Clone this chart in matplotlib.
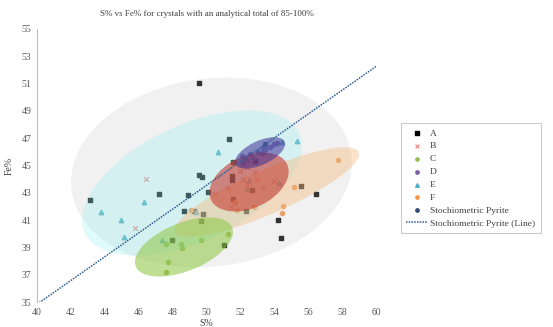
import numpy as np
import matplotlib
matplotlib.use("Agg")
import matplotlib.pyplot as plt
from matplotlib.patches import Ellipse

plt.rcParams["font.family"] = ["Liberation Serif", "DejaVu Serif"]

# ── Data ───────────────────────────────────────────────────────
A_S = [49.54, 51.31, 51.56, 49.54, 49.73, 50.07, 43.15, 47.2, 48.9, 48.65, 49.24, 49.81,
       49.66, 47.94, 51.05, 51.5, 51.5, 51.56, 52.67, 52.33, 55.57, 56.44, 54.24, 54.38, 52.88]
A_FE = [51.07, 46.96, 45.28, 44.28, 44.18, 43.06, 42.45, 42.9, 42.86, 41.7, 41.67, 41.42,
        40.96, 39.54, 39.18, 44.25, 43.94, 42.52, 43.18, 41.69, 43.5, 42.93, 41.0, 39.69, 45.3]

B_S = [46.45, 45.78, 50.5, 51.25, 51.96, 52.17, 52.37, 52.98, 52.88, 53.35, 53.96, 51.46,
       52.37, 52.57, 52.11, 53.45]
B_FE = [44.03, 40.42, 42.89, 43.33, 44.62, 44.01, 43.64, 43.96, 44.52, 43.33, 43.84, 41.94,
        44.92, 45.16, 45.04, 45.9]

C_S = [47.63, 47.73, 47.59, 48.5, 48.55, 49.66, 51.27]
C_FE = [39.27, 37.9, 37.2, 39.22, 38.93, 39.54, 39.96]

D_S = [52.08, 52.57, 53.06, 53.45, 53.75, 53.98, 54.14, 52.37, 52.76, 53.25, 52.17, 53.35]
D_FE = [45.7, 45.84, 46.01, 46.2, 46.33, 46.57, 46.67, 45.4, 45.53, 45.89, 45.16, 46.26]

E_S = [50.7, 54.47, 55.36, 43.76, 46.33, 44.98, 45.11, 47.35, 49.36, 52.39, 52.53, 54.3]
E_FE = [45.99, 46.72, 46.8, 41.62, 42.35, 41.0, 39.74, 39.54, 41.62, 43.3, 43.94, 43.74]

F_S = [49.1, 51.68, 51.8, 52.8, 55.18, 54.53, 54.45, 57.74]
F_FE = [41.72, 42.3, 41.72, 41.94, 43.42, 42.03, 41.55, 45.38]

PYRITE_S = [53.45]
PYRITE_FE = [46.55]

# confidence regions per group: centre S, centre Fe, width, height, angle (data units)
ELL_NAMES = ["A", "E", "F", "C", "B", "D"]
ELL_S = [50.29, 49.14, 53.57, 48.67, 52.51, 53.16]
ELL_FE = [44.49, 43.72, 43.06, 39.03, 43.79, 45.92]
ELL_W = [16.75, 14.7, 12.31, 6.39, 5.26, 3.35]
ELL_H = [13.68, 8.06, 3.09, 3.38, 3.59, 1.67]
ELL_ANG = [14.8, 34.3, 29.0, 30.1, 38.8, 33.3]

X_TICKS = list(range(40, 61, 2))
Y_TICKS = list(range(35, 56, 2))

# ── Styles ─────────────────────────────────────────────────────
SERIES = [
    ("A", A_S, A_FE, dict(marker="s", color="black", s=9)),
    ("B", B_S, B_FE, dict(marker="x", color="#e8837c", s=12, linewidths=0.8)),
    ("C", C_S, C_FE, dict(marker="o", color="#9bbb59", s=9)),
    ("D", D_S, D_FE, dict(marker="o", color="#7b5ea7", s=9)),
    ("E", E_S, E_FE, dict(marker="^", color="#4bacc6", s=10)),
    ("F", F_S, F_FE, dict(marker="o", color="#f79646", s=9)),
    ("Stochiometric Pyrite", PYRITE_S, PYRITE_FE, dict(marker="o", color="#2f4a7a", s=9)),
]
ELL_STYLE = {
    "A": ("#c8c8c8", 0.25),
    "E": ("#70f0f0", 0.22),
    "F": ("#f5b97a", 0.4),
    "C": ("#8cc63f", 0.55),
    "B": ("#c83a30", 0.6),
    "D": ("#3e2f96", 0.55),
}

fig = plt.figure(figsize=(5.53, 3.27), dpi=100)
ax = fig.add_axes([37 / 553, 25 / 327, (376 - 37) / 553, (302 - 29) / 327])

for name, xs, ys, kw in SERIES:
    ax.scatter(xs, ys, label=name, zorder=2, **kw)

for i, name in enumerate(ELL_NAMES):
    fc, al = ELL_STYLE[name]
    ax.add_patch(Ellipse((ELL_S[i], ELL_FE[i]), ELL_W[i], ELL_H[i], angle=ELL_ANG[i],
                         facecolor=fc, alpha=al, edgecolor="none", zorder=3))

# stoichiometric pyrite line (Fe/S ratio of FeS2)
ratio = PYRITE_FE[0] / PYRITE_S[0]
line_x = np.array([40, 60])
ax.plot(line_x, ratio * line_x, linestyle=(0, (1, 0.8)), color="#2f5c8f", linewidth=1.1,
        zorder=4, label="Stochiometric Pyrite (Line)")

ax.set_xlim(40, 60)
ax.set_ylim(35, 55)
ax.set_xticks(X_TICKS)
ax.set_yticks(Y_TICKS)
ax.tick_params(length=0, labelsize=7, colors="#595959", pad=4)
for sp in ["top", "right", "bottom"]:
    ax.spines[sp].set_visible(False)
ax.spines["left"].set_color("#bfbfbf")
ax.set_xlabel("S%", fontsize=7, color="#404040", labelpad=2)
ax.set_ylabel("Fe%", fontsize=7, color="#404040", labelpad=6)
ax.set_title("S% vs Fe% for crystals with an analytical total of 85-100%",
             fontsize=6.5, color="#404040", pad=9)

leg = ax.legend(loc="upper left", bbox_to_anchor=(400.7 / 553, 1 - 123.3 / 327),
                bbox_transform=fig.transFigure, borderaxespad=0, fontsize=6.8,
                fancybox=False, frameon=True, edgecolor="#bfbfbf", handlelength=2.2,
                handletextpad=0.3, labelspacing=0.45, borderpad=0.6, markerscale=0.8)
leg.get_frame().set_linewidth(0.8)
for t in leg.get_texts():
    t.set_color("#404040")

fig.savefig("out.png", dpi=100)
